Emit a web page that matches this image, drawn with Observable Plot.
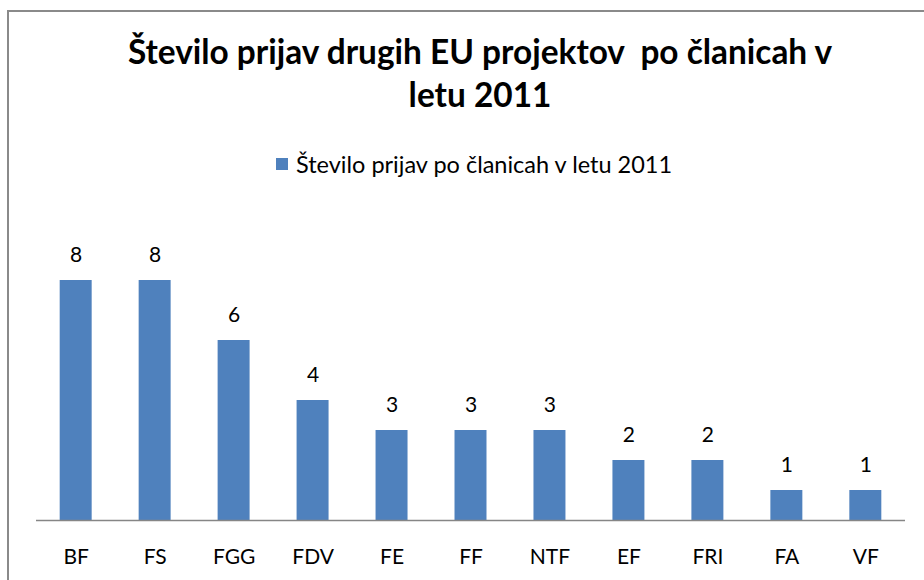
<!DOCTYPE html>
<html>
<head>
<meta charset="utf-8">
<script src="https://cdn.jsdelivr.net/npm/d3@7"></script>
<script src="https://cdn.jsdelivr.net/npm/@observablehq/plot@0.6"></script>
<style>
  html, body { margin: 0; padding: 0; background: #fff; width: 924px; height: 580px; overflow: hidden; }
  #frame { position: absolute; left: 7px; top: 10px; width: 960px; height: 620px; border: 2px solid #8a8a8a; box-sizing: border-box; }
  #title { position: absolute; left: 0; top: 30px; width: 960px; text-align: center; font-family: Lato, sans-serif; font-weight: bold; font-size: 33.4px; line-height: 43px; color: #000; }
  #legend { position: absolute; left: 276px; top: 150px; font-family: Lato, sans-serif; font-size: 23.5px; color: #000; display: flex; align-items: center; white-space: nowrap; }
  #legend .sw { width: 12px; height: 12px; background: #4F81BD; margin-right: 8px; }
  #chart { position: absolute; left: 0; top: 190px; }
</style>
</head>
<body>
<div id="frame"></div>
<div id="title">Število prijav drugih EU projektov&nbsp; po članicah v<br>letu 2011</div>
<div id="legend"><span class="sw"></span><span id="legendText"></span></div>
<div id="chart"></div>
<script>
const categories = ["BF", "FS", "FGG", "FDV", "FE", "FF", "NTF", "EF", "FRI", "FA", "VF"];
const values = [8, 8, 6, 4, 3, 3, 3, 2, 2, 1, 1];
const seriesName = "Število prijav po članicah v letu 2011";

document.getElementById("legendText").textContent = seriesName;

const data = categories.map((c, i) => ({category: c, value: values[i]}));

const plot = Plot.plot({
  width: 924,
  height: 390,
  marginLeft: 36,
  marginRight: 19,
  marginTop: 90,
  marginBottom: 60,
  style: {fontFamily: "Lato, sans-serif", fontSize: "20px", color: "#000", background: "transparent"},
  x: {domain: categories, paddingInner: 0.595, paddingOuter: 0.3, round: false, label: null},
  y: {domain: [0, 8], axis: null},
  marks: [
    Plot.barY(data, {x: "category", y: "value", fill: "#4F81BD"}),
    Plot.ruleY([0], {stroke: "#868686", strokeWidth: 1.5}),
    Plot.text(data, {x: "category", y: "value", text: d => String(d.value), dy: -25, fill: "#000", fontSize: 21}),
    Plot.axisX({tickSize: 0, tickPadding: 29, fontSize: 21, fill: "#000", label: null})
  ]
});
document.getElementById("chart").appendChild(plot);
</script>
</body>
</html>
